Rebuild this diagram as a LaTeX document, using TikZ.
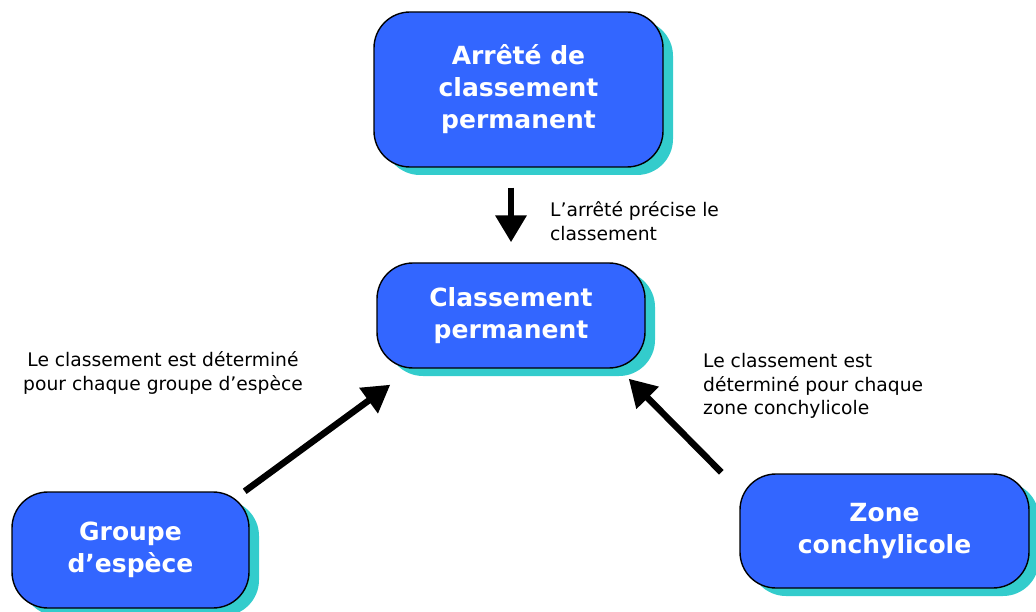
\documentclass[tikz,border=0pt]{standalone}
\usepackage{fontspec}
\setmainfont{DejaVu Sans}
\usetikzlibrary{arrows.meta,shadows}
\definecolor{boxblue}{HTML}{3366FF}
\definecolor{shadecyan}{HTML}{33CCCC}
\begin{document}
\begin{tikzpicture}[x=1pt,y=-1pt,
    box/.style={draw=black, line width=1.4pt, fill=boxblue, rounded corners=36pt,
        text=white, font=\bfseries\fontsize{25}{32}\selectfont, align=center,
        drop shadow={shadow xshift=10pt, shadow yshift=-8pt, fill=shadecyan, opacity=1}},
    note/.style={font=\fontsize{18.7}{23.5}\selectfont, inner sep=0pt},
    arr/.style={line width=6.5pt, -{Triangle[length=27pt,width=30pt]}}]
    \useasboundingbox (0,0) rectangle (1036,612);

    % boxes
    \node[box, minimum width=289pt, minimum height=155pt] (arr) at (518.5,89.5) {Arrêté de\\classement\\permanent};
    \node[box, minimum width=268pt, minimum height=105pt] (cls) at (511,315.5) {Classement\\permanent};
    \node[box, minimum width=237pt, minimum height=116pt] (grp) at (130.5,550) {Groupe\\d’espèce};
    \node[box, minimum width=289pt, minimum height=114pt] (zon) at (884.5,531) {Zone\\conchylicole};

    % notes
    \node[note, anchor=west, align=left] (txtarr) at (550,221) {L’arrêté précise le\\classement};
    \node[note, align=center] (txtgrp) at (163,373) {Le classement est déterminé\\pour chaque groupe d’espèce};
    \node[note, anchor=west, align=left] (txtzon) at (703,386) {Le classement est\\déterminé pour chaque\\zone conchylicole};

    % arrows
    \draw[arr] ([xshift=-7.5pt,yshift=-20pt]arr.south) -- ([yshift=20pt]cls.north);
    \draw[arr] ([xshift=-5pt]grp.north east) -- ([xshift=14pt,yshift=-16pt]cls.south west);
    \draw[arr] ([xshift=-18pt,yshift=1pt]zon.north west) -- ([xshift=-17pt,yshift=-10pt]cls.south east);
\end{tikzpicture}
\end{document}
